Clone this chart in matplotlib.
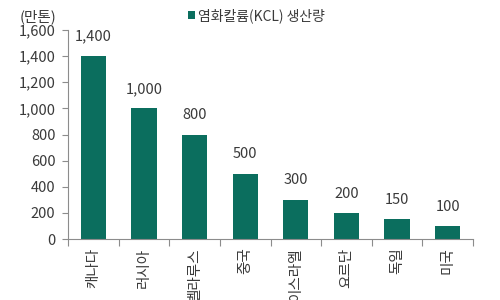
import matplotlib.pyplot as plt
from matplotlib.ticker import FuncFormatter, FixedLocator
import numpy as np

plt.rcParams['font.family'] = ['Noto Sans CJK KR', 'DejaVu Sans']

countries = ["캐나다", "러시아", "벨라루스", "중국", "이스라엘", "요르단", "독일", "미국"]
production = [1400, 1000, 800, 500, 300, 200, 150, 100]
yticks = [0, 200, 400, 600, 800, 1000, 1200, 1400, 1600]

bar_color = "#0b6e5e"
text_color = "#3a3a3a"
axis_color = "#8c8c8c"
fs = 10.5

fig = plt.figure(figsize=(5, 3), dpi=100)
ax = fig.add_axes([0.136, 0.203, 0.81, 0.697])

x = np.arange(len(countries))
ax.bar(x, production, width=0.5, color=bar_color, label="염화칼륨(KCL) 생산량")

for xi, v in zip(x, production):
    ax.text(xi, v + 95, f"{v:,}", ha="center", va="bottom", fontsize=fs, color=text_color)

ax.set_xlim(-0.5, len(countries) - 0.5)
ax.set_ylim(0, 1600)
ax.set_yticks(yticks)
ax.yaxis.set_major_formatter(FuncFormatter(lambda v, p: f"{int(v):,}"))

ax.set_xticks(x)
ax.set_xticklabels(countries, rotation=90, fontsize=fs, color=text_color)
ax.xaxis.set_minor_locator(FixedLocator(np.arange(len(countries) + 1) - 0.5))
ax.tick_params(axis="x", which="major", length=0, pad=6)
ax.tick_params(axis="x", which="minor", length=5, color=axis_color, width=0.8)
ax.tick_params(axis="y", length=4, color=axis_color, width=0.8, labelsize=fs,
               labelcolor=text_color, pad=5)

for s in ["top", "right"]:
    ax.spines[s].set_visible(False)
for s in ["left", "bottom"]:
    ax.spines[s].set_color(axis_color)
    ax.spines[s].set_linewidth(0.8)

fig.text(0.04, 0.945, "(만톤)", fontsize=fs, color=text_color, va="center")
ax.legend(loc="upper left", bbox_to_anchor=(0.265, 1.165), frameon=False, fontsize=10,
          handlelength=0.5, handleheight=0.5, handletextpad=0.2, labelcolor=text_color)

fig.savefig("out.png", dpi=100)
